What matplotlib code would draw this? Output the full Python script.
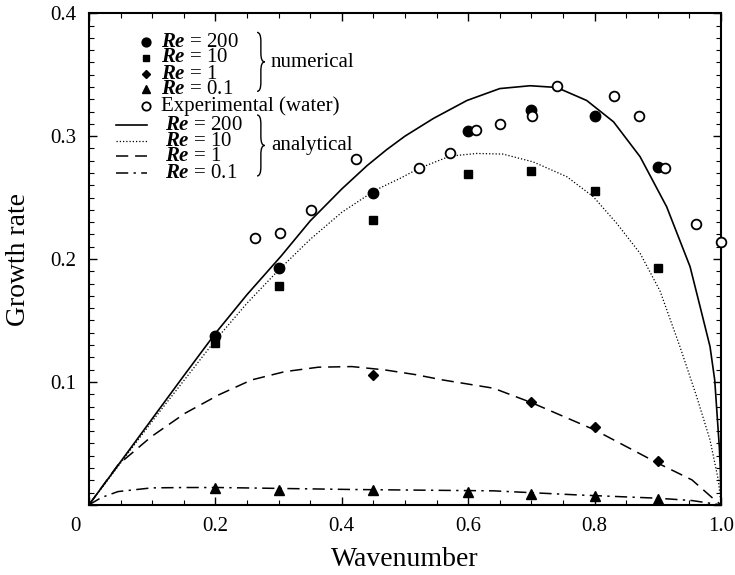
import matplotlib
matplotlib.use('Agg')
import matplotlib.pyplot as plt
from matplotlib.path import Path
from matplotlib.patches import PathPatch
from matplotlib.ticker import MultipleLocator

plt.rcParams['font.family'] = ['Liberation Serif', 'DejaVu Serif']
plt.rcParams['mathtext.fontset'] = 'custom'
plt.rcParams['mathtext.rm'] = 'Liberation Serif'
plt.rcParams['mathtext.it'] = 'Liberation Serif:italic:bold'

# numerical results
k_num = [0.2, 0.3, 0.45, 0.6, 0.7, 0.8, 0.9]
num_re200 = [0.137, 0.193, 0.254, 0.304, 0.321, 0.316, 0.275]
num_re10 = [0.132, 0.178, 0.232, 0.269, 0.272, 0.255, 0.193]
k_re1 = [0.45, 0.7, 0.8, 0.9]
num_re1 = [0.106, 0.084, 0.063, 0.036]
num_re01 = [0.0135, 0.0122, 0.0117, 0.0106, 0.0087, 0.0073, 0.0046]

# experiment (water)
k_exp = [0.263, 0.303, 0.352, 0.4225, 0.522, 0.571, 0.612, 0.651, 0.701,
         0.740, 0.831, 0.871, 0.911, 0.961, 1.0]
exp_water = [0.217, 0.221, 0.240, 0.281, 0.274, 0.2865, 0.305, 0.310, 0.316,
             0.341, 0.333, 0.3165, 0.274, 0.2285, 0.214]

# analytical curves
k_a200 = [0, 0.05, 0.1, 0.15, 0.2, 0.25, 0.304, 0.35, 0.4, 0.44, 0.471, 0.50,
          0.545, 0.598, 0.650, 0.698, 0.740, 0.7875, 0.830, 0.872, 0.914,
          0.951, 0.967, 0.9826, 0.990, 0.9973, 0.999, 1.0]
a200 = [0, 0.035, 0.070, 0.105, 0.1395, 0.171, 0.2024, 0.231, 0.257, 0.276,
        0.289, 0.300, 0.3144, 0.329, 0.3387, 0.341, 0.3396, 0.329, 0.3116,
        0.2832, 0.2425, 0.1938, 0.161, 0.1287, 0.1016, 0.047, 0.028, 0]
k_a10 = [0, 0.05, 0.1, 0.15, 0.2, 0.25, 0.3, 0.35, 0.4, 0.453, 0.492, 0.522,
         0.571, 0.613, 0.655, 0.703, 0.756, 0.798, 0.835, 0.872, 0.9035,
         0.935, 0.9615, 0.9826, 0.9958, 1.0]
a10 = [0, 0.034, 0.068, 0.101, 0.134, 0.164, 0.191, 0.216, 0.238, 0.256,
       0.2656, 0.2737, 0.2837, 0.2859, 0.2854, 0.279, 0.267, 0.2507, 0.229,
       0.2046, 0.174, 0.1287, 0.088, 0.0528, 0.020, 0]
k_a1 = [0, 0.046, 0.099, 0.152, 0.205, 0.257, 0.310, 0.363, 0.416, 0.468,
        0.516, 0.56, 0.640, 0.7, 0.8, 0.9, 0.954, 0.987, 1.0]
a1 = [0, 0.0325, 0.0556, 0.0745, 0.0894, 0.1016, 0.1084, 0.112, 0.1125, 0.1098,
      0.106, 0.1016, 0.0949, 0.0832, 0.061, 0.0339, 0.0203, 0.0054, 0]
k_a01 = [0, 0.02, 0.046, 0.099, 0.152, 0.205, 0.310, 0.416, 0.516, 0.640,
         0.772, 0.9, 0.954, 1.0]
a01 = [0, 0.006, 0.0108, 0.0138, 0.0141, 0.0141, 0.0133, 0.0125, 0.012,
       0.0114, 0.0081, 0.0054, 0.0035, 0]

legend_num = [r'$Re$ = 200', r'$Re$ = 10', r'$Re$ = 1', r'$Re$ = 0.1']
legend_ana = [r'$Re$ = 200', r'$Re$ = 10', r'$Re$ = 1', r'$Re$ = 0.1']


def brace(ax, x, y0, y1, w):
    ym = (y0 + y1) / 2
    h = 0.018
    verts = [(x, y1), (x + w / 2, y1), (x + w / 2, y1 - h),
             (x + w / 2, ym + h),
             (x + w / 2, ym), (x + w, ym),
             (x + w / 2, ym), (x + w / 2, ym - h),
             (x + w / 2, y0 + h),
             (x + w / 2, y0), (x, y0)]
    codes = [Path.MOVETO, Path.CURVE3, Path.CURVE3, Path.LINETO,
             Path.CURVE3, Path.CURVE3, Path.CURVE3, Path.CURVE3,
             Path.LINETO, Path.CURVE3, Path.CURVE3]
    ax.add_patch(PathPatch(Path(verts, codes), transform=ax.transAxes,
                           fill=False, lw=1.0, color='k', clip_on=False))


fig = plt.figure(figsize=(7.35, 5.75), dpi=100)
ax = fig.add_axes([0.121, 0.122, 0.860, 0.855])

ax.plot(k_a200, a200, '-', color='k', lw=1.2)
ax.plot(k_a10, a10, color='k', lw=0.9, linestyle=(0, (1, 1.6)))
ax.plot(k_a1, a1, color='k', lw=1.1, linestyle=(0, (8, 4.5)))
ax.plot(k_a01, a01, color='k', lw=1.1, linestyle=(0, (8, 3.5, 1.5, 3.5)))

ax.plot(k_num, num_re200, 'o', color='k', ms=7.5, zorder=5)
ax.plot(k_num, num_re10, 's', color='k', ms=5.5, zorder=5)
ax.plot(k_re1, num_re1, 'D', color='k', ms=5, zorder=5)
ax.plot(k_num, num_re01, '^', color='k', ms=6.5, zorder=5)
ax.plot(k_exp, exp_water, 'o', mfc='white', mec='k', mew=1.3, ms=7,
        zorder=6, clip_on=False)

ax.set_xlim(0, 1.0)
ax.set_ylim(0, 0.4)
ax.set_xticks([0, 0.2, 0.4, 0.6, 0.8, 1.0], ['', '0.2', '0.4', '0.6', '0.8', '1.0'])
ax.set_yticks([0, 0.1, 0.2, 0.3, 0.4], ['', '0.1', '0.2', '0.3', '0.4'])
ax.xaxis.set_minor_locator(MultipleLocator(0.05))
ax.yaxis.set_minor_locator(MultipleLocator(0.01))
ax.tick_params(which='both', direction='in', top=True, right=True, labelsize=15)
ax.tick_params(which='major', length=6, width=1.0, pad=9)
ax.tick_params(which='minor', length=3.5, width=0.8)
for s in ax.spines.values():
    s.set_linewidth(1.5)
ax.text(-0.021, -0.045, '0', transform=ax.transAxes, fontsize=15,
        ha='center', va='center')

ax.set_xlabel('Wavenumber', fontsize=20, labelpad=8)
ax.set_ylabel('Growth rate', fontsize=20, labelpad=14)

# legend, numerical group
xm, xt = 0.090, 0.114
rows_num = [0.941, 0.909, 0.876, 0.845]
markers = [('o', 7.5), ('s', 5.5), ('D', 5), ('^', 6.5)]
for (m, s), y, lab in zip(markers, rows_num, legend_num):
    ax.plot([xm], [y], m, color='k', ms=s * 0.85, transform=ax.transAxes, clip_on=False)
    ax.text(xt, y, lab, transform=ax.transAxes, fontsize=15, va='center', ha='left')
ax.plot([xm], [0.811], 'o', mfc='white', mec='k', mew=1.3, ms=6,
        transform=ax.transAxes, clip_on=False)
ax.text(xt, 0.811, 'Experimental (water)', transform=ax.transAxes,
        fontsize=15, va='center', ha='left')
brace(ax, 0.266, 0.841, 0.961, 0.012)
ax.text(0.288, 0.900, 'numerical', transform=ax.transAxes, fontsize=15,
        va='center', ha='left')

# legend, analytical group
rows_ana = [0.772, 0.740, 0.709, 0.675]
styles = [('-', 1.2), ((0, (1, 1.6)), 0.9), ((0, (8, 4.5)), 1.1),
          ((0, (8, 3.5, 1.5, 3.5)), 1.1)]
for (ls, lw), y, lab in zip(styles, rows_ana, legend_ana):
    ax.plot([0.043, 0.092], [y, y], color='k', linestyle=ls, lw=lw,
            transform=ax.transAxes)
    ax.text(0.121, y, lab, transform=ax.transAxes, fontsize=15, va='center', ha='left')
brace(ax, 0.266, 0.669, 0.793, 0.012)
ax.text(0.288, 0.731, 'analytical', transform=ax.transAxes, fontsize=15,
        va='center', ha='left')

plt.savefig('out.png', dpi=100)
